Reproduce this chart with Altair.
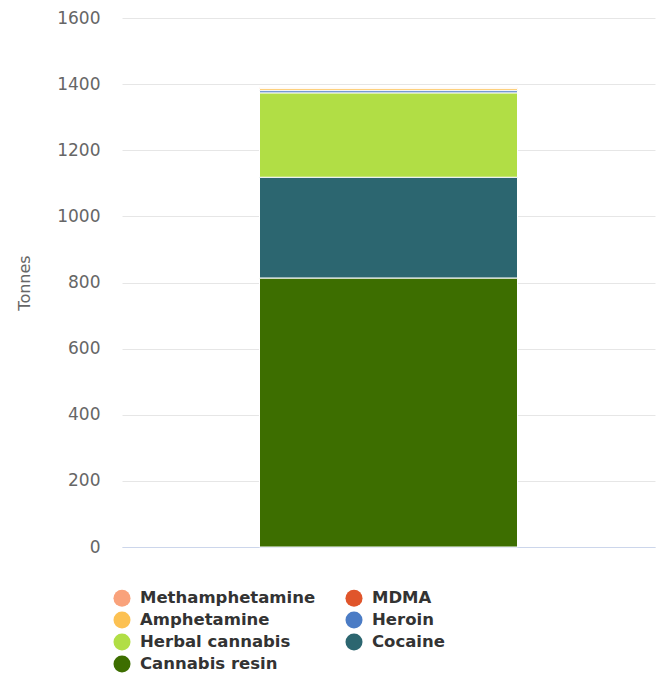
import altair as alt
import pandas as pd

# Series (legend order, top of stack first)
drugs = ["Methamphetamine", "MDMA", "Amphetamine", "Heroin",
         "Herbal cannabis", "Cocaine", "Cannabis resin"]
tonnes = [1.5, 1.5, 6, 7, 255, 305, 813]
colors = ["#f9a27b", "#e0552b", "#fcc152", "#4b7cc5",
          "#b1de45", "#2c6670", "#3d6e00"]
category = "Seizures"
y_ticks = [0, 200, 400, 600, 800, 1000, 1200, 1400, 1600]

n = len(drugs)
df = pd.DataFrame({
    "cat": [category] * n,
    "drug": drugs,
    "tonnes": tonnes,
    "stack": [n - 1 - i for i in range(n)],
})

font = "DejaVu Sans"

chart = alt.Chart(df).mark_bar(size=258, stroke="white", strokeWidth=1).encode(
    x=alt.X("cat:N", axis=alt.Axis(labels=False, ticks=False, title=None,
                                    domainColor="#ccd6eb", domainWidth=1, grid=False)),
    y=alt.Y("tonnes:Q", stack="zero",
            scale=alt.Scale(domain=[0, 1600], nice=False),
            axis=alt.Axis(values=y_ticks, format="d", title="Tonnes", ticks=False, domain=False,
                          gridColor="#e6e6e6", labelColor="#666666", labelFontSize=17,
                          labelFont=font, labelPadding=22, titleColor="#666666",
                          titleFont=font, titleFontSize=16, titleFontWeight="normal",
                          titlePadding=24)),
    color=alt.Color("drug:N", scale=alt.Scale(domain=drugs, range=colors),
                    legend=alt.Legend(title=None, orient="none", legendX=-9, legendY=571,
                                      direction="horizontal",
                                      columns=2, symbolType="circle", symbolSize=290,
                                      symbolStrokeWidth=0, symbolOpacity=1,
                                      labelFont=font, labelFontSize=16.5, labelLimit=400,
                                      labelFontWeight="bold", labelColor="#333333",
                                      labelOffset=9, rowPadding=4, columnPadding=29)),
    order=alt.Order("stack:Q", sort="ascending"),
).properties(
    width=533, height=529,
    autosize=alt.AutoSizeParams(type="none"),
    padding={"left": 114, "top": 10, "right": 2, "bottom": 126},
).configure_view(stroke=None)

chart.save("out.html", embed_options={"renderer": "svg", "actions": False})
